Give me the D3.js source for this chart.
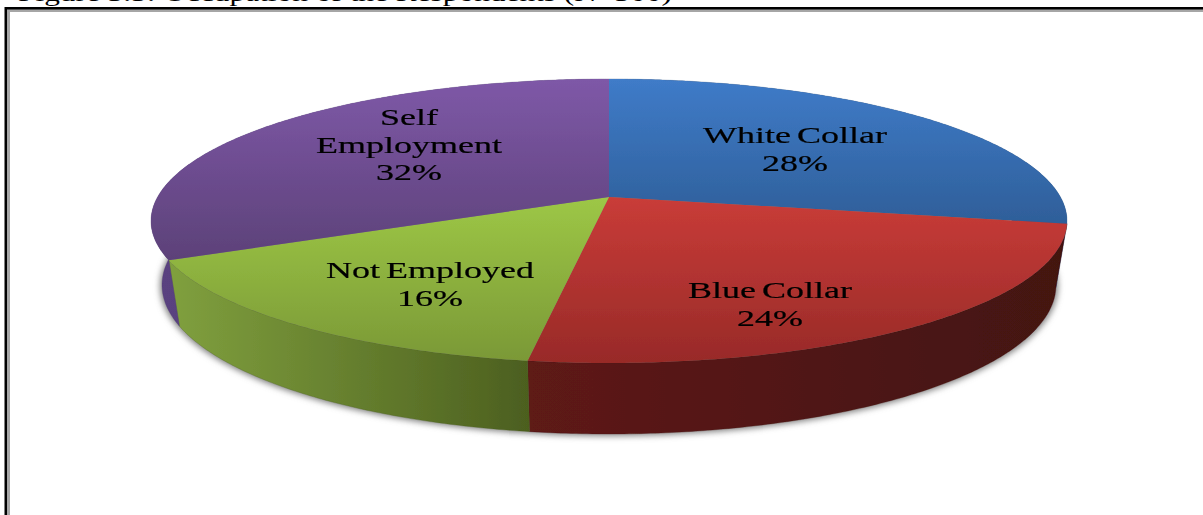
<!DOCTYPE html>
<html>
<head>
<meta charset="utf-8">
<script src="https://cdn.jsdelivr.net/npm/d3@7"></script>
<style>
  html, body { margin: 0; padding: 0; background: #fff; overflow: hidden; }
  svg { display: block; }
  text { font-family: "Liberation Serif", serif; fill: #000; }
</style>
</head>
<body>
<svg id="chart" width="1203" height="515"></svg>
<script>
// printed labels are the rounded values
var categories = ["White Collar", "Blue Collar", "Not Employed", "Self Employment"];
var shares = [28, 24.4, 15.6, 32];
var titleText = "Figure 3.3: Occupation of the Respondents (N=300)";

const width = 1203;
const height = 515;
const svg = d3.select("#chart");
const defs = svg.append("defs");

// colours per category: top face [from, to], wall [from, to]
const faceColors = [["#3f7bc8", "#2e5e98"], ["#c93c38", "#982a28"], ["#9dc746", "#7a9836"], ["#7e58a7", "#5c4178"]];
const wallColors = [["#2a5285", "#2a5285"], ["#5e1a17", "#431211"], ["#80a03e", "#4c5f1f"], ["#5a4280", "#533c75"]];
const faceSpan = [[80, 227], [197, 363], [197, 363], [80, 262]];

// label lines are centred on these points, first baseline
const labelLayout = [
  { x: 795, y: 143, lines: ["White Collar"] },
  { x: 770, y: 298, lines: ["Blue Collar"] },
  { x: 430, y: 278, lines: ["Not Employed"] },
  { x: 409, y: 125, lines: ["Self", "Employment"] }
];

const topEllipse = { cx: 609, cy: 221, rx: 458, ry: 142 };
const bottomEllipse = { cx: 609, cy: 285, rx: 447, ry: 149 };
const tilt = 0.169; // perspective, pulls the pie centre above the ellipse centre

// disc position (angle clockwise from 12 o'clock) to screen
function project(angle, r, e) {
  const u = r * Math.sin(angle);
  const v = -r * Math.cos(angle);
  const w = 1 - tilt * v;
  return [
    e.cx + e.rx * u * Math.sqrt(1 - tilt * tilt) / w,
    e.cy + e.ry * (v - tilt) / w
  ];
}

function sampleArc(d, e) {
  const n = Math.max(2, Math.ceil((d.endAngle - d.startAngle) / 0.01));
  return d3.range(n + 1).map(i => project(d.startAngle + (d.endAngle - d.startAngle) * i / n, 1, e));
}

const pie = d3.pie().sort(null).value(d => d);
const slices = pie(shares);
const line = d3.line();

// gradients
slices.forEach((d, i) => {
  const face = defs.append("linearGradient")
    .attr("id", "face" + i)
    .attr("gradientUnits", "userSpaceOnUse")
    .attr("x1", 0).attr("x2", 0)
    .attr("y1", faceSpan[i][0]).attr("y2", faceSpan[i][1]);
  face.append("stop").attr("offset", 0).attr("stop-color", faceColors[i][0]);
  face.append("stop").attr("offset", 1).attr("stop-color", faceColors[i][1]);

  const wall = defs.append("linearGradient").attr("id", "wall" + i);
  wall.append("stop").attr("offset", 0).attr("stop-color", wallColors[i][0]);
  wall.append("stop").attr("offset", 1).attr("stop-color", wallColors[i][1]);
});

const shadow = defs.append("filter").attr("id", "shadow")
  .attr("x", "-5%").attr("y", "-10%").attr("width", "110%").attr("height", "120%");
shadow.append("feGaussianBlur").attr("stdDeviation", 3);

const soft = defs.append("filter").attr("id", "soft");
soft.append("feGaussianBlur").attr("stdDeviation", 0.5);

const softer = defs.append("filter").attr("id", "softer");
softer.append("feGaussianBlur").attr("stdDeviation", 0.6);

// title, cut off by the top of the page like the source
svg.append("text")
  .attr("x", 18)
  .attr("y", 0.5)
  .attr("font-size", 24)
  .attr("textLength", 654)
  .attr("lengthAdjust", "spacingAndGlyphs")
  .text(titleText);

// double frame running off the page
const frame = svg.append("g").attr("fill", "none");
frame.append("path")
  .attr("d", "M8.5,515V10.5H1203")
  .attr("stroke", "#a6a6a6")
  .attr("stroke-width", 3);
frame.append("path")
  .attr("d", "M5.75,515V8.25H1203")
  .attr("stroke", "#000")
  .attr("stroke-width", 2.5);

// soft shadow only round the lower rim
svg.append("ellipse")
  .attr("cx", bottomEllipse.cx)
  .attr("cy", bottomEllipse.cy + 1)
  .attr("rx", bottomEllipse.rx + 2)
  .attr("ry", bottomEllipse.ry + 1)
  .attr("fill", "#808080")
  .attr("filter", "url(#shadow)");

// walls go under the faces, blue is hidden behind the top anyway
const pieGroup = svg.append("g").attr("filter", "url(#softer)");
pieGroup.append("g")
  .selectAll("path")
  .data(slices)
  .enter()
  .append("path")
  .attr("d", d => line(sampleArc(d, topEllipse).concat(sampleArc(d, bottomEllipse).reverse())) + "Z")
  .attr("fill", (d, i) => "url(#wall" + i + ")")
  .attr("stroke", (d, i) => wallColors[i][1])
  .attr("stroke-width", 0.3);

pieGroup.append("g")
  .selectAll("path")
  .data(slices)
  .enter()
  .append("path")
  .attr("d", d => line([project(0, 0, topEllipse)].concat(sampleArc(d, topEllipse))) + "Z")
  .attr("fill", (d, i) => "url(#face" + i + ")");

// labels, stretched wide like the original
const lineGap = 27.7;
const labels = svg.append("g").attr("filter", "url(#soft)");
slices.forEach((d, i) => {
  const lay = labelLayout[i];
  const rows = lay.lines.concat([Math.round(d.data) + "%"]);
  rows.forEach((row, k) => {
    labels.append("text")
      .attr("transform", "translate(" + lay.x + "," + (lay.y + k * lineGap) + ") scale(1.5,1)")
      .attr("text-anchor", "middle")
      .attr("font-size", 24)
      .attr("word-spacing", -2)
      .style("fill", "#000")
      .attr("stroke", "#000")
      .attr("stroke-width", 0.2)
      .text(row);
  });
});
</script>
</body>
</html>
